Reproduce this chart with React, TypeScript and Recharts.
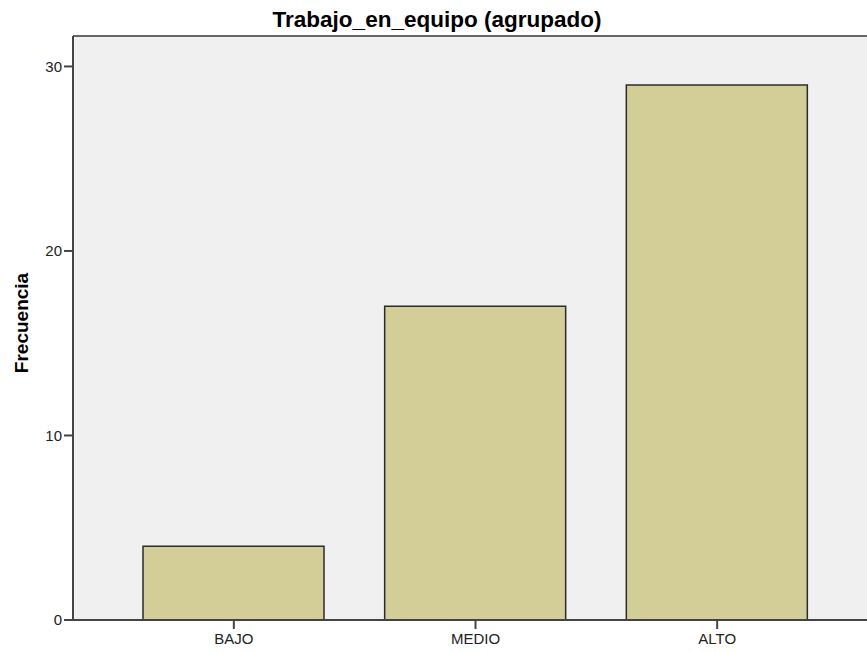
import React from 'react';
import { BarChart, Bar, XAxis, YAxis, CartesianGrid, ReferenceLine } from 'recharts';

const categories = ['BAJO', 'MEDIO', 'ALTO'];
const frecuencias = [4, 17, 29];
const yTicks = [0, 10, 20, 30];
const yMax = 31.65;

const data = categories.map((nivel, i) => ({ nivel, frecuencia: frecuencias[i] }));

const FONT = '"Liberation Sans", Arial, sans-serif';

export default function App() {
  return (
    <div style={{ position: 'fixed', left: 0, top: 0, width: 867, height: 653, overflow: 'hidden', background: '#fff' }}>
      <BarChart
        width={878}
        height={653}
        data={data}
        margin={{ top: 36, right: 0, bottom: 0, left: 0 }}
        barSize={181}
      >
        <CartesianGrid horizontal={false} vertical={false} fill="#f0f0f0" />
        <XAxis
          dataKey="nivel"
          height={33}
          padding={{ left: 40, right: 40 }}
          stroke="#444"
          strokeWidth={2}
          tickSize={9}
          tickMargin={4}
          tick={{ fontSize: 15, fill: '#222', fontFamily: FONT }}
        />
        <YAxis
          width={73}
          domain={[0, yMax]}
          ticks={yTicks}
          stroke="#444"
          strokeWidth={2}
          tickSize={9}
          tickMargin={2}
          tick={{ fontSize: 15, fill: '#222', fontFamily: FONT }}
        />
        <ReferenceLine y={yMax} stroke="#666" strokeWidth={2} />
        <Bar
          dataKey="frecuencia"
          fill="#d3ce97"
          stroke="#2b2b2b"
          strokeWidth={1.5}
          isAnimationActive={false}
        />
      </BarChart>
      <svg width={867} height={653} style={{ position: 'absolute', left: 0, top: 0, pointerEvents: 'none' }}>
        <text x={437} y={27} textAnchor="middle" fontFamily={FONT} fontWeight="bold" fontSize={22.5} fill="#000">
          Trabajo_en_equipo (agrupado)
        </text>
        <text
          x={28}
          y={323}
          textAnchor="middle"
          transform="rotate(-90, 28, 323)"
          fontFamily={FONT}
          fontWeight="bold"
          fontSize={19}
          fill="#000"
        >
          Frecuencia
        </text>
      </svg>
    </div>
  );
}
